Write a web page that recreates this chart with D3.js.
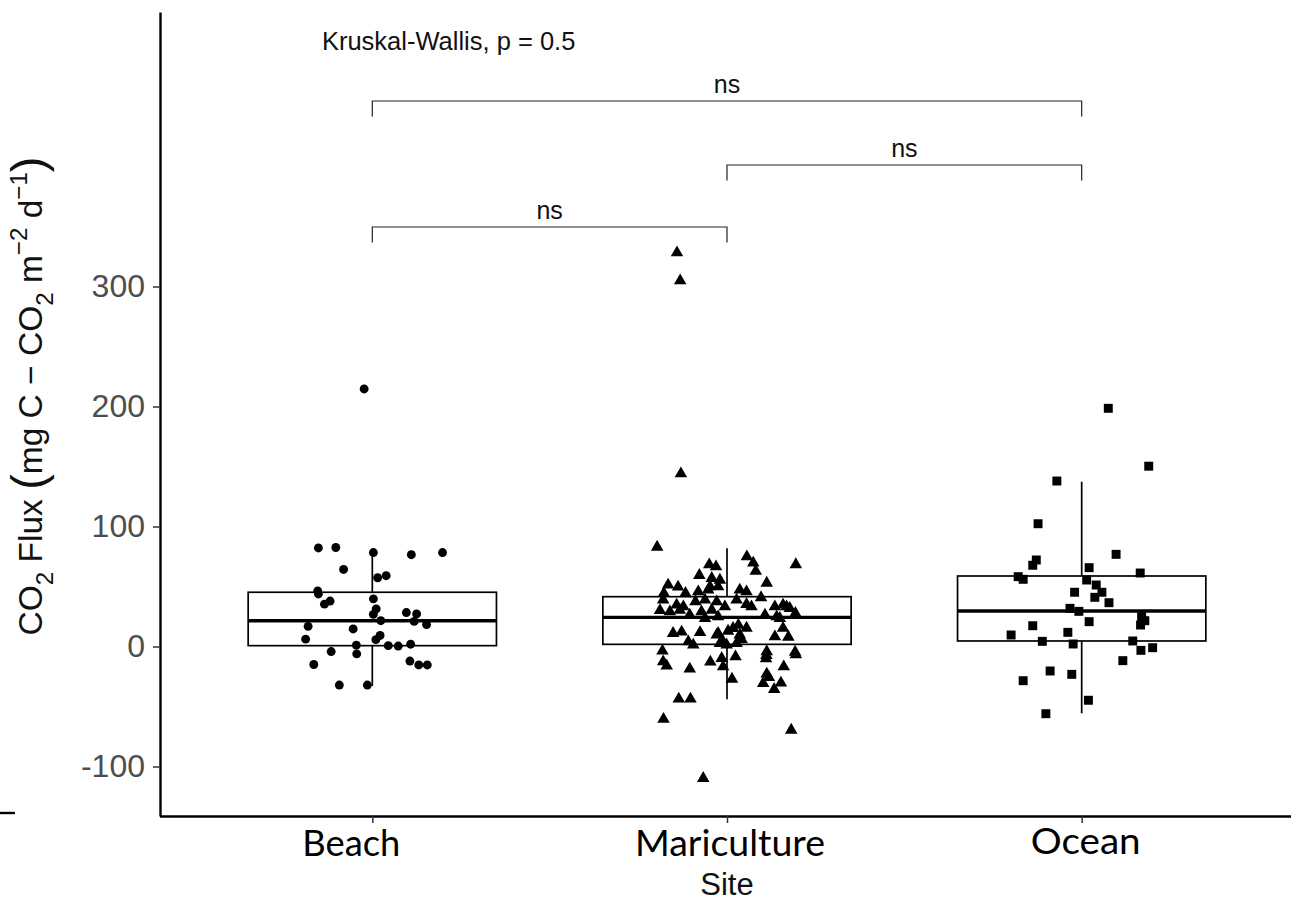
<!DOCTYPE html>
<html>
<head>
<meta charset="utf-8">
<script src="https://cdn.jsdelivr.net/npm/d3@7"></script>
<style>
  html, body { margin: 0; padding: 0; background: #fff; }
  svg { display: block; }
  text { font-family: "Liberation Sans", Arial, Helvetica, sans-serif; }
</style>
</head>
<body>
<svg id="chart" width="1291" height="902"></svg>
<script>
// ---- data ---------------------------------------------------------------
const categories = ["Beach", "Mariculture", "Ocean"];
const yTicks = [-100, 0, 100, 200, 300];

// CO2 flux observations per site, with the horizontal jitter (in category units)
const beachFlux = [82.1, 82.5, 78.3, 76.5, 78.3, 64.2, 57.3, 59.0, 46.4, 43.8,
  35.3, 37.9, 39.7, 31.3, 26.8, 21.5, 28.3, 27.1, 20.9, 18.3,
  16.8, 14.6, 6.1, 9.2, 5.7, 1.1, -6.1, -4.2, 0.7, 0.4,
  1.9, -15.0, -12.1, -15.4, -15.4, -32.1, -32.1, 214.6];
const beachJitter = [-0.152, -0.103, 0.003, 0.110, 0.198, -0.081, 0.015, 0.039, -0.154, -0.152,
  -0.135, -0.119, 0.003, 0.011, 0.003, 0.024, 0.096, 0.125, 0.118, 0.153,
  -0.181, -0.054, -0.188, 0.022, 0.010, -0.045, -0.044, -0.116, 0.045, 0.073,
  0.108, -0.165, 0.106, 0.131, 0.155, -0.093, -0.014, -0.023];

const maricultureFlux = [328.2, 304.8, 144.0, 82.9, 74.8, 69.6, 62.9, 68.3, 68.2, 66.5,
  59.3, 52.9, 51.25, 49.6, 56.8, 55.4, 49.8, 49.8, 44.3, 44.3,
  45.7, 47.1, 47.1, 45.7, 40.8, 38.75, 34.6, 33.2, 37.3, 38.75,
  37.3, 38.75, 35.2, 33.2, 33.2, 34.6, 33.2, 33.2, 31.8, 30.0,
  29.0, 30.4, 26.25, 29.0, 30.4, 24.8, 23.5, 26.25, 24.8, 23.5,
  27.7, 15.25, 11.0, 12.1, 11.7, 11.0, 12.9, 17.9, 15.4, 15.2,
  9.6, 6.0, 9.6, 4.0, 1.25, 4.0, 2.7, 1.25, 2.7, 8.2,
  7.9, -3.75, -4.2, -4.6, -12.7, -16.25, -18.75, -12.9, -9.8, -16.8,
  -8.5, -7.3, -10.2, -6.8, -16.8, -22.9, -25.8, -30.7, -30.4, -35.7,
  -27.1, -43.75, -43.75, -60.6, -69.6, -109.8];
const maricultureJitter = [-0.141, -0.132, -0.130, -0.197, 0.056, 0.074, 0.081, 0.194, -0.050, -0.031,
  -0.078, 0.112, -0.166, -0.138, -0.043, -0.020, -0.048, -0.025, -0.117, -0.178,
  -0.081, -0.053, 0.036, 0.055, 0.096, -0.180, -0.142, -0.123, -0.089, -0.062,
  -0.029, 0.027, 0.055, 0.069, 0.135, 0.158, 0.168, -0.006, 0.177, -0.189,
  -0.161, -0.133, -0.105, -0.072, -0.043, -0.025, -0.062, 0.107, 0.140, 0.149,
  0.193, 0.158, -0.152, -0.128, -0.076, -0.025, 0.003, 0.032, 0.055, 0.017,
  0.036, 0.041, -0.029, -0.109, -0.095, -0.011, -0.020, -0.001, 0.027, 0.135,
  0.173, -0.182, 0.112, 0.192, -0.180, -0.170, -0.105, -0.047, -0.015, -0.011,
  0.024, 0.111, 0.110, 0.194, 0.160, 0.112, 0.118, 0.102, 0.152, 0.133,
  0.014, -0.136, -0.103, -0.179, 0.181, -0.067];

const oceanFlux = [198.5, 150.25, 137.9, 102.3, 76.8, 72.1, 67.7, 65.7, 58.2, 56.0,
  61.25, 55.4, 51.25, 45.2, 45.2, 41.0, 36.5, 31.8, 29.3, 20.7,
  24.8, 21.5, 17.9, 17.3, 11.8, 9.6, 4.3, 2.1, 4.6, -3.2,
  -1.0, -11.8, -20.4, -23.2, -28.5, -44.8, -56.0];
const oceanJitter = [0.075, 0.189, -0.070, -0.123, 0.097, -0.128, -0.138, 0.021, -0.179, -0.165,
  0.165, 0.014, 0.041, 0.057, -0.020, 0.037, 0.077, -0.033, -0.008, 0.021,
  0.169, 0.178, 0.166, -0.138, -0.039, -0.199, -0.111, -0.024, 0.144, 0.167,
  0.200, 0.116, -0.089, -0.028, -0.165, 0.019, -0.101];

// box-plot summary per site (same order as categories)
const whiskerLow = [-32.9, -44.0, -55.7];
const quartile1 = [0.7, 1.8, 4.6];
const medians = [21.5, 24.3, 29.6];
const quartile3 = [45.2, 41.5, 58.75];
const whiskerHigh = [78.2, 81.8, 137.3];

// pairwise comparison brackets
const pairFrom = ["Beach", "Mariculture", "Beach"];
const pairTo = ["Mariculture", "Ocean", "Ocean"];
const pairLevel = [349.6, 401.25, 454.6];
const pairLabel = ["ns", "ns", "ns"];
const bracketTip = 13;

const testLabel = "Kruskal-Wallis, p = 0.5";
const testLabelPos = [-0.142, 497];   // [category offset from first site, flux]

// ---- layout -------------------------------------------------------------
const svg = d3.select("#chart");
const plotLeft = 160, plotBottom = 816, plotTop = 12;

const x = d3.scalePoint().domain(categories).range([159.5, 1294.5]).padding(0.6);
const step = x.step();
const y = d3.scaleLinear().domain([-141.25, 528.75]).range([plotBottom, plotTop]);
const boxHalf = 0.35 * step;

// ---- axes ---------------------------------------------------------------
const yAxis = svg.append("g")
  .attr("transform", `translate(${plotLeft},0)`)
  .call(d3.axisLeft(y).tickValues(yTicks).tickFormat(d => String(d))
    .tickSize(7).tickSizeOuter(0).tickPadding(8));
yAxis.select(".domain").attr("stroke", "#000").attr("stroke-width", 2.4);
yAxis.selectAll(".tick line").attr("stroke", "#333").attr("stroke-width", 1.5);
yAxis.selectAll(".tick text")
  .attr("fill", "#4d4d4d")
  .style("font-family", '"Liberation Sans", Arial, sans-serif')
  .style("font-size", "32px");

const xAxis = svg.append("g")
  .attr("transform", `translate(0,${plotBottom})`)
  .call(d3.axisBottom(x).tickSize(7).tickSizeOuter(0).tickFormat(""));
xAxis.select(".domain").attr("stroke", "#000").attr("stroke-width", 2.4);
xAxis.selectAll(".tick line").attr("stroke", "#333").attr("stroke-width", 1.5);

// site names
const siteLabelShift = { Beach: -21, Mariculture: 3, Ocean: 4 };
const siteLabelWidth = { Beach: 98, Mariculture: 190, Ocean: 110 };
svg.append("g").selectAll("text")
  .data(categories)
  .join("text")
  .attr("x", d => x(d) + siteLabelShift[d])
  .attr("y", d => d === "Ocean" ? 854 : 856)
  .attr("text-anchor", "middle")
  .attr("textLength", d => siteLabelWidth[d])
  .attr("lengthAdjust", "spacingAndGlyphs")
  .style("font-family", 'Lato, "Liberation Sans", sans-serif')
  .style("font-size", "37px")
  .attr("fill", "#000")
  .text(d => d);

svg.append("text")
  .attr("x", x("Mariculture"))
  .attr("y", 895)
  .attr("text-anchor", "middle")
  .style("font-size", "31px")
  .attr("fill", "#111")
  .text("Site");

// y-axis title with sub- and superscripts
const titleParts = [
  { t: "CO" }, { t: "2", sub: true }, { t: " Flux " }, { t: "(", big: true },
  { t: "mg C \u2212 CO" }, { t: "2", sub: true }, { t: " m" }, { t: "\u22122", sup: true },
  { t: " d" }, { t: "\u22121", sup: true }, { t: ")", big: true }
];
const titleSize = 33.5;
const yTitle = svg.append("text")
  .attr("transform", `translate(42,396) rotate(-90)`)
  .attr("text-anchor", "middle")
  .style("font-size", titleSize + "px")
  .attr("fill", "#111");
let shift = 0;
titleParts.forEach(p => {
  const target = p.sub ? 0.32 * titleSize : p.sup ? -0.45 * titleSize : p.big ? 0.06 * titleSize : 0;
  yTitle.append("tspan")
    .attr("dy", target - shift)
    .style("font-size", p.sub || p.sup ? (0.72 * titleSize) + "px" : p.big ? (1.4 * titleSize) + "px" : null)
    .style("font-weight", p.big ? "300" : null)
    .text(p.t);
  shift = target;
});

// small stray tick at the far left
svg.append("line")
  .attr("x1", 0).attr("x2", 15)
  .attr("y1", plotBottom - 3).attr("y2", plotBottom - 3)
  .attr("stroke", "#000").attr("stroke-width", 2.4);

// ---- box plots -------------------------------------------------------------
const boxes = svg.append("g").selectAll("g")
  .data(categories.map((c, i) => ({ c, lo: whiskerLow[i], q1: quartile1[i], med: medians[i], q3: quartile3[i], hi: whiskerHigh[i] })))
  .join("g");
boxes.append("line")
  .attr("x1", d => x(d.c)).attr("x2", d => x(d.c))
  .attr("y1", d => y(d.q3)).attr("y2", d => y(d.hi))
  .attr("stroke", "#000").attr("stroke-width", 1.7);
boxes.append("line")
  .attr("x1", d => x(d.c)).attr("x2", d => x(d.c))
  .attr("y1", d => y(d.q1)).attr("y2", d => y(d.lo))
  .attr("stroke", "#000").attr("stroke-width", 1.7);
boxes.append("rect")
  .attr("x", d => x(d.c) - boxHalf)
  .attr("width", 2 * boxHalf)
  .attr("y", d => y(d.q3))
  .attr("height", d => y(d.q1) - y(d.q3))
  .attr("fill", "#fff")
  .attr("stroke", "#000").attr("stroke-width", 1.7);
boxes.append("line")
  .attr("x1", d => x(d.c) - boxHalf).attr("x2", d => x(d.c) + boxHalf)
  .attr("y1", d => y(d.med)).attr("y2", d => y(d.med))
  .attr("stroke", "#000").attr("stroke-width", 3.4);

// ---- jittered observations -------------------------------------------------
const groups = [
  { c: "Beach", values: beachFlux, jitter: beachJitter, shape: d3.symbolCircle, size: 62 },
  { c: "Mariculture", values: maricultureFlux, jitter: maricultureJitter, shape: d3.symbolTriangle, size: 68 },
  { c: "Ocean", values: oceanFlux, jitter: oceanJitter, shape: d3.symbolSquare, size: 80 }
];
groups.forEach(g => {
  const pts = g.values.map((v, i) => ({ v, j: g.jitter[i] }));
  svg.append("g").selectAll("path")
    .data(pts)
    .join("path")
    .attr("transform", d => `translate(${x(g.c) + d.j * step},${y(d.v)})`)
    .attr("d", d3.symbol().type(g.shape).size(g.size))
    .attr("fill", "#000");
});

// ---- significance brackets -----------------------------------------------
const brackets = svg.append("g").selectAll("g")
  .data(pairFrom.map((f, i) => ({ f, t: pairTo[i], lvl: pairLevel[i], lab: pairLabel[i] })))
  .join("g");
brackets.append("path")
  .attr("d", d => `M${x(d.f)},${y(d.lvl - bracketTip)}V${y(d.lvl)}H${x(d.t)}V${y(d.lvl - bracketTip)}`)
  .attr("fill", "none")
  .attr("stroke", "#222")
  .attr("stroke-width", 1.2);
brackets.append("text")
  .attr("x", d => (x(d.f) + x(d.t)) / 2)
  .attr("y", d => y(d.lvl) - 8)
  .attr("text-anchor", "middle")
  .style("font-size", "25px")
  .attr("fill", "#111")
  .text(d => d.lab);

// overall test annotation
svg.append("text")
  .attr("x", x(categories[0]) + testLabelPos[0] * step)
  .attr("y", y(testLabelPos[1]))
  .style("font-size", "25.5px")
  .attr("fill", "#111")
  .text(testLabel);
</script>
</body>
</html>
